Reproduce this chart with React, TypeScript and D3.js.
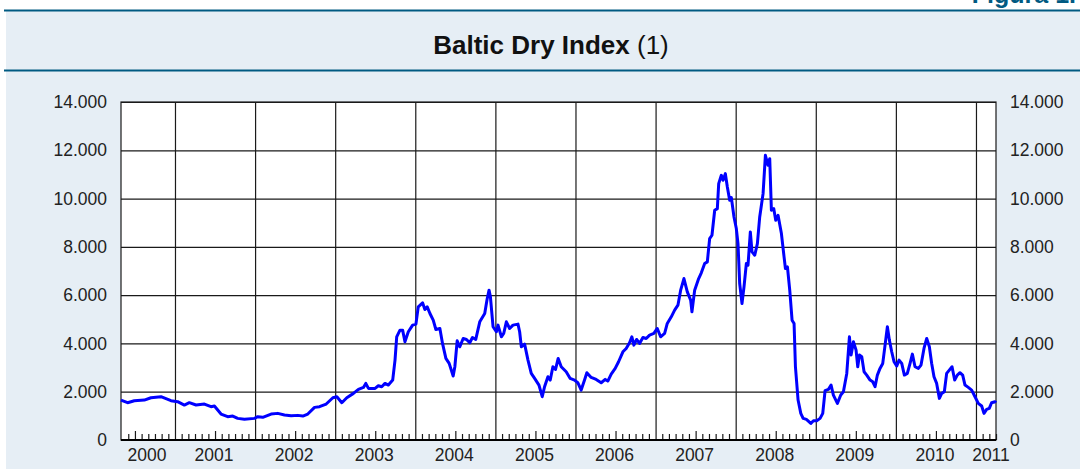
import React, { useEffect, useRef } from "react";
import * as d3 from "d3";

// weekly-ish readings of the index, time as decimal year
const years = [
  2000.325, 2000.408, 2000.492, 2000.617, 2000.7, 2000.825, 2000.95, 2001.033, 2001.117, 2001.179,
  2001.263, 2001.367, 2001.45, 2001.492, 2001.575, 2001.658, 2001.721, 2001.783, 2001.867, 2001.992,
  2002.033, 2002.096, 2002.2, 2002.283, 2002.367, 2002.45, 2002.533, 2002.596, 2002.658, 2002.742,
  2002.804, 2002.888, 2002.971,
  2003.021, 2003.083, 2003.145, 2003.228, 2003.29, 2003.353, 2003.382, 2003.415, 2003.498, 2003.539,
  2003.581, 2003.622, 2003.664, 2003.718, 2003.747, 2003.768, 2003.809, 2003.842, 2003.871, 2003.913,
  2003.967, 2004.008, 2004.037, 2004.091, 2004.12, 2004.149, 2004.183, 2004.224, 2004.257, 2004.307,
  2004.34, 2004.382, 2004.423, 2004.473, 2004.494, 2004.523, 2004.556, 2004.598, 2004.639, 2004.68,
  2004.714, 2004.755, 2004.805, 2004.867, 2004.896, 2004.921, 2004.938, 2004.971, 2005.012, 2005.033,
  2005.075, 2005.104, 2005.137, 2005.178, 2005.22, 2005.282, 2005.303, 2005.324, 2005.365, 2005.407,
  2005.448, 2005.49, 2005.544, 2005.585, 2005.614, 2005.656, 2005.685, 2005.718, 2005.751, 2005.784,
  2005.822, 2005.884, 2005.934, 2005.988,
  2006.029, 2006.071, 2006.113, 2006.142, 2006.196, 2006.258, 2006.321, 2006.371, 2006.404, 2006.446,
  2006.496, 2006.538, 2006.592, 2006.633, 2006.675, 2006.704, 2006.729, 2006.763, 2006.8, 2006.842,
  2006.883, 2006.925, 2006.979, 2007.021, 2007.063, 2007.113, 2007.146, 2007.196, 2007.238, 2007.279,
  2007.313, 2007.354, 2007.396, 2007.438, 2007.454, 2007.488, 2007.538, 2007.571, 2007.613, 2007.646,
  2007.675, 2007.704, 2007.738, 2007.771, 2007.788, 2007.821, 2007.842, 2007.871, 2007.896, 2007.925,
  2007.946, 2007.979, 2008.008, 2008.029, 2008.05, 2008.079, 2008.104, 2008.133, 2008.154, 2008.183,
  2008.204, 2008.238, 2008.271, 2008.3, 2008.342, 2008.371, 2008.404, 2008.425, 2008.446, 2008.475,
  2008.5, 2008.529, 2008.571, 2008.604, 2008.621, 2008.646, 2008.675, 2008.704, 2008.729, 2008.746,
  2008.779, 2008.813, 2008.842, 2008.883, 2008.938, 2008.971,
  2009.012, 2009.054, 2009.087, 2009.116, 2009.158, 2009.191, 2009.22, 2009.27, 2009.312, 2009.345,
  2009.387, 2009.42, 2009.441, 2009.47, 2009.503, 2009.524, 2009.545, 2009.574, 2009.603, 2009.636,
  2009.678, 2009.711, 2009.74, 2009.769, 2009.802, 2009.836, 2009.865, 2009.894, 2009.919, 2009.948,
  2009.977, 2010.01, 2010.04, 2010.073, 2010.106, 2010.143, 2010.177, 2010.206, 2010.239, 2010.281,
  2010.314, 2010.351, 2010.385, 2010.418, 2010.447, 2010.476, 2010.509, 2010.543, 2010.572, 2010.605,
  2010.634, 2010.667, 2010.701, 2010.734, 2010.767, 2010.8, 2010.834, 2010.863, 2010.904, 2010.946,
  2010.988, 2011.029, 2011.071, 2011.1, 2011.133, 2011.166, 2011.195, 2011.237, 2011.25,
];

const bdi = [
  1655, 1545, 1627, 1655, 1751, 1793, 1627, 1586, 1448, 1545,
  1448, 1490, 1379, 1407, 1076, 965, 993, 896, 855, 896,
  965, 938, 1076, 1103, 1034, 1007, 1020, 993, 1076, 1351,
  1379, 1490, 1751,
  1793, 1545, 1751, 1931, 2096, 2179, 2344, 2137, 2137, 2248,
  2206, 2344, 2275, 2482, 3310, 4275, 4551, 4551, 4068, 4482,
  4758, 4799, 5516, 5681, 5406, 5516, 5240, 4964, 4578, 4620,
  3999, 3379, 3172, 2648, 3034, 4109, 3861, 4206, 4165, 4027,
  4247, 4165, 4895, 5240, 5819, 6206, 5930, 4689, 4482, 4758,
  4275, 4413, 4895, 4620, 4758, 4799, 4482, 3861, 3972, 3310,
  2758, 2551, 2275, 1793, 2206, 2620, 2482, 3034, 2924, 3379,
  3034, 2827, 2551, 2482,
  2372, 2068, 2482, 2786, 2593, 2510, 2372, 2510, 2441, 2730,
  2965, 3241, 3654, 3792, 4027, 4275, 3930, 4165, 3999, 4247,
  4206, 4344, 4413, 4620, 4275, 4413, 4827, 5102, 5378, 5585,
  6206, 6688, 6137, 5792, 5309, 6206, 6688, 6923, 7309, 7378,
  8343, 8481, 9515, 9584, 10618, 10963, 10756, 11032, 10480, 9929,
  10039, 9239, 8757, 8136, 6481, 5654, 6343, 7309, 7240, 8619,
  7791, 7654, 8136, 9239, 10204, 11791, 11377, 11653, 9515, 9584,
  9101, 9308, 8550, 7585, 7102, 7171, 6206, 4964, 4827, 3034,
  1655, 1103, 896, 855, 689, 800,
  800, 896, 1103, 2041, 2096, 2275, 1862, 1517, 1862, 2000,
  2758, 4275, 3517, 4068, 3723, 3034, 3517, 3448, 2827, 2689,
  2482, 2413, 2206, 2689, 2965, 3172, 3930, 4689, 4137, 3654,
  3241, 3062, 3310, 3172, 2689, 2758, 3172, 3558, 3034, 2965,
  3103, 3792, 4206, 3861, 3172, 2620, 2344, 1724, 1931, 2000,
  2758, 2896, 3034, 2482, 2689, 2786, 2689, 2275, 2179, 2068,
  1793, 1517, 1407, 1103, 1269, 1310, 1545, 1586, 1540,
];

const yTicks = [0, 2000, 4000, 6000, 8000, 10000, 12000, 14000];
const yearLabels = [2000, 2001, 2002, 2003, 2004, 2005, 2006, 2007, 2008, 2009, 2010, 2011];

const W = 1080;
const H = 469;
const margin = { left: 121, right: 84, top: 102, bottom: 29 };
const font = "'Liberation Sans', Arial, sans-serif";

export default function App() {
  const ref = useRef<SVGSVGElement>(null);

  useEffect(() => {
    const svg = d3.select(ref.current);
    svg.selectAll("*").remove();

    const width = W - margin.left - margin.right;
    const height = H - margin.top - margin.bottom;

    const x = d3.scaleLinear().domain([2000.326, 2011.25]).range([0, width]);
    const y = d3.scaleLinear().domain([0, 14000]).range([height, 0]);
    const fmt = d3.formatLocale({ decimal: ",", thousands: ".", grouping: [3], currency: ["", ""] }).format(",");

    // panel and header
    svg.append("rect").attr("x", 6).attr("y", 11).attr("width", W - 6).attr("height", H - 11).attr("fill", "#e6eef5");
    svg.append("line").attr("x1", 4).attr("x2", W).attr("y1", 10.5).attr("y2", 10.5)
      .attr("stroke", "#005a82").attr("stroke-width", 2);
    svg.append("line").attr("x1", 4).attr("x2", W).attr("y1", 70.5).attr("y2", 70.5)
      .attr("stroke", "#005a82").attr("stroke-width", 2);
    svg.append("text").attr("x", 1076).attr("y", 3).attr("text-anchor", "end")
      .attr("font-family", font).attr("font-weight", "bold")
      .attr("font-size", 25).attr("fill", "#005a82").text("Figura 1.");

    const title = svg.append("text").attr("x", 551).attr("y", 54).attr("text-anchor", "middle")
      .attr("font-family", font).attr("font-size", 26).attr("fill", "#111");
    title.append("tspan").attr("font-weight", "bold").text("Baltic Dry Index");
    title.append("tspan").text(" (1)");

    const g = svg.append("g").attr("transform", `translate(${margin.left},${margin.top})`);
    g.append("rect").attr("width", width).attr("height", height).attr("fill", "#fff");

    // horizontal grid + left labels
    const yAxisL = g.append("g").call(d3.axisLeft(y).tickValues(yTicks).tickSize(-width).tickPadding(14).tickFormat(fmt));
    yAxisL.select(".domain").remove();
    yAxisL.selectAll("line").attr("stroke", "#1a1a1a").attr("stroke-width", 1.2);
    yAxisL.selectAll("text").attr("font-family", font).attr("font-size", 17.5).attr("fill", "#222");

    const yAxisR = g.append("g").attr("transform", `translate(${width},0)`)
      .call(d3.axisRight(y).tickValues(yTicks).tickSize(0).tickPadding(14).tickFormat(fmt));
    yAxisR.select(".domain").remove();
    yAxisR.selectAll("text").attr("font-family", font).attr("font-size", 17.5).attr("fill", "#222");

    // vertical grid at year starts
    const yearStarts = d3.range(2001, 2012);
    const xGrid = g.append("g").attr("transform", `translate(0,${height})`)
      .call(d3.axisBottom(x).tickValues(yearStarts).tickSize(-height).tickFormat(() => ""));
    xGrid.select(".domain").remove();
    xGrid.selectAll("line").attr("stroke", "#1a1a1a").attr("stroke-width", 1.2);

    // month ticks, taller at mid-year
    const months = d3.range(2000 * 12 + 5, 2011 * 12 + 4).map((m) => m / 12).filter((m) => m % 1 !== 0);
    const mTicks = g.append("g").attr("transform", `translate(0,${height})`)
      .call(d3.axisBottom(x).tickValues(months).tickSize(-6).tickFormat(() => ""));
    mTicks.select(".domain").remove();
    mTicks.selectAll("line").attr("stroke", "#1a1a1a").attr("stroke-width", 1.2)
      .attr("y2", (d: any) => (Math.abs((d % 1) - 0.5) < 0.01 ? -9 : -6));

    // frame
    g.append("rect").attr("width", width).attr("height", height).attr("fill", "none")
      .attr("stroke", "#1a1a1a").attr("stroke-width", 1.2);
    g.append("line").attr("x1", 0).attr("x2", width).attr("y1", height).attr("y2", height)
      .attr("stroke", "#000").attr("stroke-width", 2);

    // year labels centred in the visible part of each year
    g.append("g").selectAll("text").data(yearLabels).enter().append("text")
      .attr("x", (d) => (x(Math.max(d, x.domain()[0])) + x(Math.min(d + 1, x.domain()[1]))) / 2 + (d === 2011 ? 5 : -1))
      .attr("y", height + 20.5)
      .attr("text-anchor", "middle").attr("font-family", font).attr("font-size", 17.5).attr("fill", "#222")
      .text((d) => d);

    const pts = years.map((t, i) => [t, bdi[i]] as [number, number]);
    const line = d3.line<[number, number]>().x((d) => x(d[0])).y((d) => y(d[1]));
    g.append("path").datum(pts).attr("d", line).attr("fill", "none")
      .attr("stroke", "#0000ff").attr("stroke-width", 3).attr("stroke-linejoin", "round");
  }, []);

  return (
    <svg ref={ref} width={W} height={H} style={{ position: "absolute", left: 0, top: 0, background: "#fff" }} />
  );
}
